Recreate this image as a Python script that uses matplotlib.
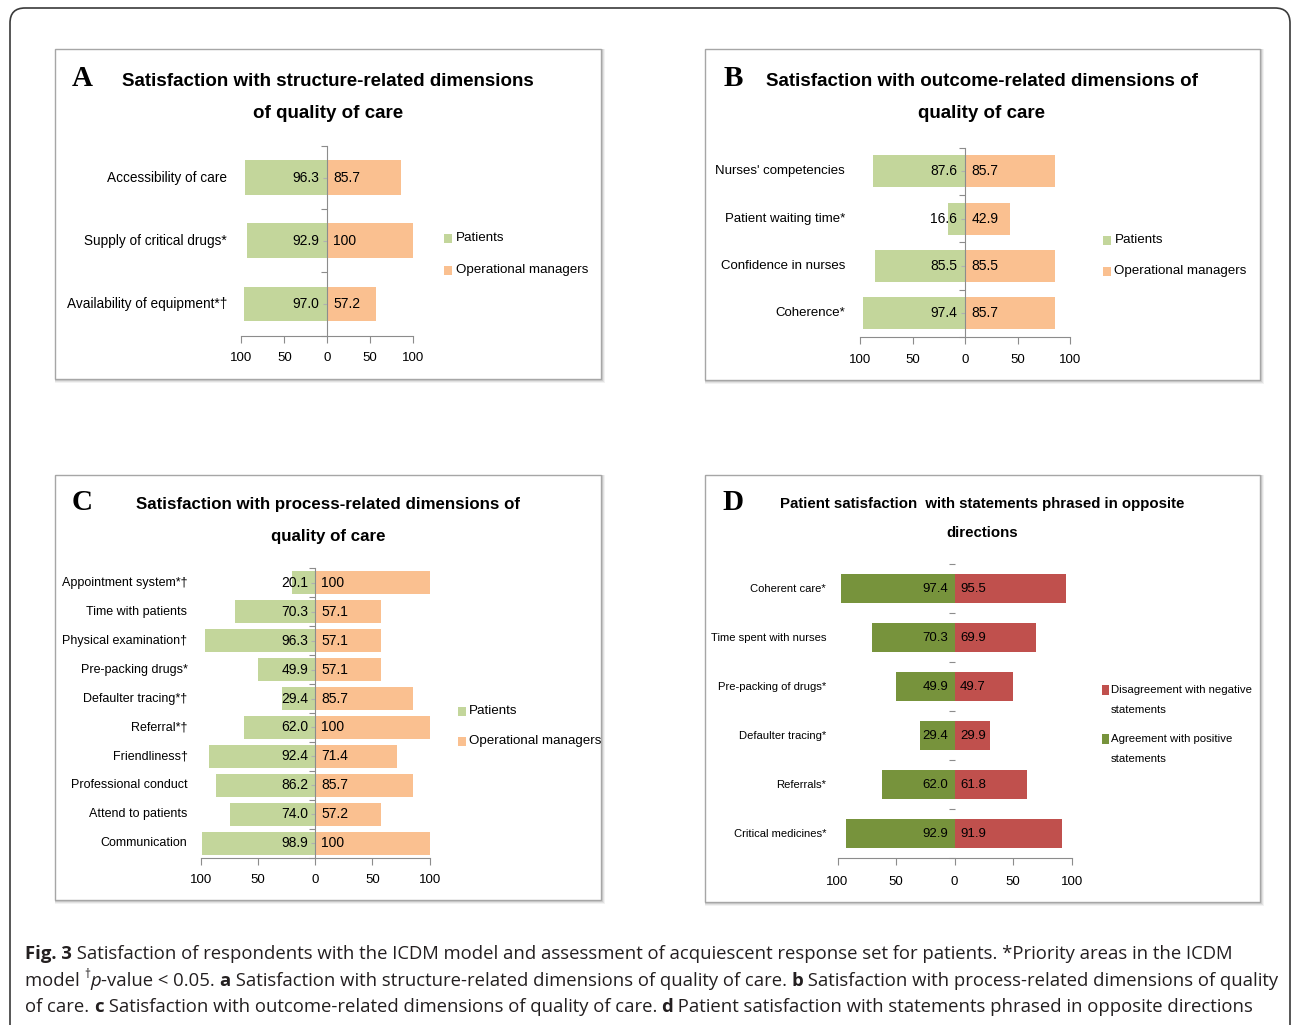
import matplotlib
matplotlib.use('Agg')
import matplotlib.pyplot as plt
import matplotlib.transforms as mtransforms
from matplotlib.patches import Rectangle, FancyBboxPatch

W, H = 1292, 1025

### panel A - structure
a_cats = ['Accessibility of care', 'Supply of critical drugs*', 'Availability of equipment*\u2020']
a_patients = [96.3, 92.9, 97.0]
a_managers = [85.7, 100, 57.2]

### panel B - outcome
b_cats = ["Nurses' competencies", 'Patient waiting time*', 'Confidence in nurses', 'Coherence*']
b_patients = [87.6, 16.6, 85.5, 97.4]
b_managers = [85.7, 42.9, 85.5, 85.7]

### panel C - process
c_cats = ['Appointment system*\u2020', 'Time with patients', 'Physical examination\u2020',
          'Pre-packing drugs*', 'Defaulter tracing*\u2020', 'Referral*\u2020', 'Friendliness\u2020',
          'Professional conduct', 'Attend to patients', 'Communication']
c_patients = [20.1, 70.3, 96.3, 49.9, 29.4, 62.0, 92.4, 86.2, 74.0, 98.9]
c_managers = [100, 57.1, 57.1, 57.1, 85.7, 100, 71.4, 85.7, 57.2, 100]

### panel D - opposite statements
d_cats = ['Coherent care*', 'Time spent with nurses', 'Pre-packing of drugs*',
          'Defaulter tracing*', 'Referrals*', 'Critical medicines*']
d_agree = [97.4, 70.3, 49.9, 29.4, 62.0, 92.9]
d_disagree = [95.5, 69.9, 49.7, 29.9, 61.8, 91.9]

tick_vals = [-100, -50, 0, 50, 100]
tick_text = ['100', '50', '0', '50', '100']

GREEN = '#C3D69B'
ORANGE = '#FAC090'
DGREEN = '#77933C'
RED = '#C0504D'
GRAY = '#8C8C8C'

plt.rcParams['font.family'] = ['Liberation Sans', 'DejaVu Sans']

fig = plt.figure(figsize=(W / 100, H / 100), dpi=100)
fig.patch.set_facecolor('white')


def frac(x0, y0, x1, y1):
    return [x0 / W, 1 - y1 / H, (x1 - x0) / W, (y1 - y0) / H]


def fmt(v):
    return '100' if v == 100 else '%.1f' % v


def box(x0, y0, x1, y1):
    # drop shadow then the white frame, both under the axes
    for d, a in [(4, 0.10), (3, 0.15), (2, 0.20), (1, 0.25)]:
        fig.patches.append(Rectangle((x0 / W, 1 - (y1 + d) / H), (x1 - x0 + d) / W, (y1 - y0 + d) / H,
                                     transform=fig.transFigure, color='#808080', alpha=a, lw=0, zorder=-3))
    fig.patches.append(Rectangle((x0 / W, 1 - y1 / H), (x1 - x0) / W, (y1 - y0) / H,
                                 transform=fig.transFigure, facecolor='white', edgecolor='#A6A6A6',
                                 lw=1, zorder=-2))


def panel(pos, cats, left, right, lcol, rcol, height, label_x, fs_cat, fs_val, fs_tick,
          offs, pad, zero_line=True, center_ticks=True):
    ax = fig.add_axes(frac(*pos))
    y = list(range(len(cats)))
    ax.barh(y, [-v for v in left], height=height, color=lcol)
    ax.barh(y, right, height=height, color=rcol)
    ax.set_xlim(-100, 100)
    ax.set_ylim(len(cats) - 0.5, -0.5)
    ax.patch.set_alpha(0)
    ax.spines['top'].set_visible(False)
    ax.spines['right'].set_visible(False)
    ax.spines['left'].set_position(('data', 0))
    ax.spines['left'].set_color(GRAY)
    ax.spines['left'].set_visible(zero_line)
    ax.spines['bottom'].set_color(GRAY)
    ax.set_xticks(tick_vals, tick_text)
    ax.set_yticks([i - 0.5 for i in range(len(cats) + 1)])
    if center_ticks:
        ax.set_yticks(y, minor=True)
    ax.tick_params(axis='y', which='major', direction='out', length=4, color=GRAY,
                   labelleft=False, width=0.8)
    ax.tick_params(axis='y', which='minor', direction='out', length=3, color='#B0B0B0',
                   labelleft=False, width=0.8)
    ax.tick_params(axis='x', length=5, color=GRAY, pad=pad, labelsize=fs_tick)
    trans = mtransforms.blended_transform_factory(fig.transFigure, ax.transData)
    for i, c in enumerate(cats):
        ax.text(label_x / W, i, c, transform=trans, ha='right', va='center', fontsize=fs_cat)
    for i in y:
        ax.annotate(fmt(left[i]), (0, i), xytext=(-offs[0], 0), textcoords='offset pixels',
                    ha='right', va='center', fontsize=fs_val)
        ax.annotate(fmt(right[i]), (0, i), xytext=(offs[1], 0), textcoords='offset pixels',
                    ha='left', va='center', fontsize=fs_val)
    return ax


def legend(items, x_sq, x_txt, fs, sq=(8, 9)):
    for color, lines, yy in items:
        fig.patches.append(Rectangle((x_sq / W, 1 - (yy[0] + sq[1] / 2) / H), sq[0] / W, sq[1] / H,
                                     transform=fig.transFigure, color=color, lw=0))
        for t, ty in zip(lines, yy):
            fig.text(x_txt / W, 1 - ty / H, t, va='center', ha='left', fontsize=fs)


def title(letter, lx, cx, lines, ys, fs):
    fig.text(lx / W, 1 - ys[0] / H, letter, fontfamily='Liberation Serif', fontweight='bold',
             fontsize=21, ha='center', va='center')
    for t, ty in zip(lines, ys):
        fig.text(cx / W, 1 - (ty + 2) / H, t, fontweight='bold', fontsize=fs, ha='center', va='center')


# outer rounded frame
fig.patches.append(FancyBboxPatch((0.10, -0.15), 12.80, 10.32, boxstyle='round,pad=0,rounding_size=0.15',
                                  transform=fig.dpi_scale_trans, facecolor='none',
                                  edgecolor='#3A3A3A', lw=1.2, zorder=-4))

box(55, 49, 601, 379)
box(705, 49, 1260, 380)
box(55, 475, 601, 900)
box(705, 475, 1260, 902)

# A
title('A', 82, 328, ['Satisfaction with structure-related dimensions', 'of quality of care'], [79, 111], 13.5)
panel((241.4, 146, 413, 335.7), a_cats, a_patients, a_managers, GREEN, ORANGE, 0.55, 227,
      9.8, 10, 9.5, (8, 6), 7)
legend([(GREEN, ['Patients'], [238]), (ORANGE, ['Operational managers'], [270])], 444.5, 455.5, 9.6)

# B
title('B', 733, 982, ['Satisfaction with outcome-related dimensions of', 'quality of care'], [79, 112], 13.5)
panel((860, 147.7, 1070, 337), b_cats, b_patients, b_managers, GREEN, ORANGE, 0.68, 845,
      9.5, 10, 9.5, (8, 6.5), 7)
legend([(GREEN, ['Patients'], [240]), (ORANGE, ['Operational managers'], [271])], 1102.5, 1114.5, 9.6)

# C
title('C', 82, 328, ['Satisfaction with process-related dimensions of', 'quality of care'], [503, 535], 12.2)
panel((200.7, 568.3, 429.6, 857.7), c_cats, c_patients, c_managers, GREEN, ORANGE, 0.81, 187.5,
      9, 10, 9.5, (7, 6), 7)
legend([(GREEN, ['Patients'], [711]), (ORANGE, ['Operational managers'], [741])], 458, 469, 9.6)

# D
title('D', 733, 982, ['Patient satisfaction  with statements phrased in opposite', 'directions'],
      [502, 531], 10.8)
panel((837.5, 564, 1071.6, 858.3), d_cats, d_agree, d_disagree, DGREEN, RED, 0.6, 826,
      8.1, 9.5, 9.5, (6.5, 5.5), 8, zero_line=False, center_ticks=False)
legend([(RED, ['Disagreement with negative', 'statements'], [690, 710]),
        (DGREEN, ['Agreement with positive', 'statements'], [739, 759])], 1101.5, 1111, 8.2, sq=(7, 10))

# caption, built piece by piece so bold / italic bits sit inline
renderer = fig.canvas.get_renderer()
CAP = dict(fontfamily='Open Sans', fontsize=13.3, color='#231F20')


def caption_line(x, y, segs):
    for txt, kind in segs:
        kw = dict(CAP)
        yy = y
        if kind == 'b':
            kw['fontweight'] = 'bold'
        elif kind == 'i':
            kw['fontstyle'] = 'italic'
        elif kind == 'sup':
            kw['fontsize'] = 8.5
            yy = y - 8
        t = fig.text(x / W, 1 - yy / H, txt, va='baseline', ha='left', **kw)
        x += t.get_window_extent(renderer).width


caption_line(25, 959, [('Fig. 3', 'b'),
                       (' Satisfaction of respondents with the ICDM model and assessment of acquiescent '
                        'response set for patients. *Priority areas in the ICDM', 'n')])
caption_line(25, 986, [('model ', 'n'), ('\u2020', 'sup'), ('p', 'i'), ('-value < 0.05. ', 'n'), ('a', 'b'),
                       (' Satisfaction with structure-related dimensions of quality of care. ', 'n'),
                       ('b', 'b'), (' Satisfaction with process-related dimensions of quality', 'n')])
caption_line(25, 1012, [('of care. ', 'n'), ('c', 'b'),
                        (' Satisfaction with outcome-related dimensions of quality of care. ', 'n'),
                        ('d', 'b'), (' Patient satisfaction with statements phrased in opposite directions', 'n')])

fig.savefig('out.png', dpi=100)
